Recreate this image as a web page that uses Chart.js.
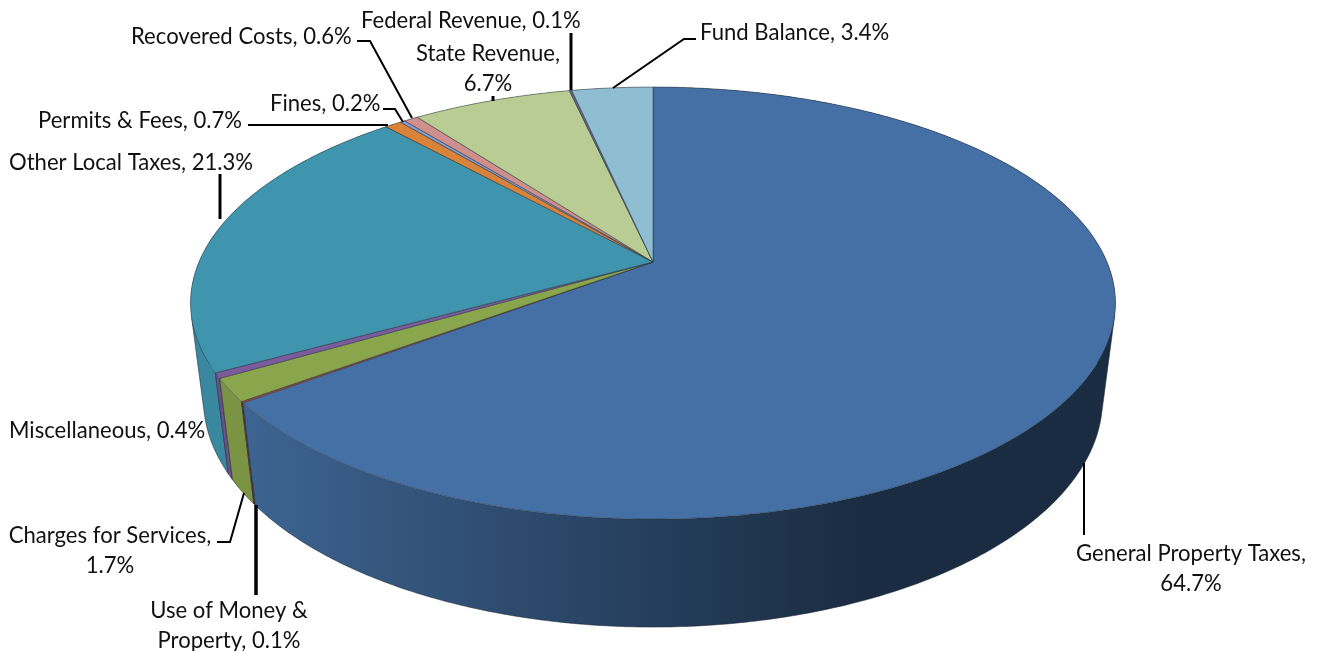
<!DOCTYPE html>
<html lang="en">
<head>
  <meta charset="UTF-8">
  <title>Revenue by Source</title>
  <script src="https://cdn.jsdelivr.net/npm/chart.js"></script>
  <style>
    body { margin: 0; background: #fff; }
    canvas { display: block; }
  </style>
</head>
<body>
  <canvas id="pieChart" width="1321" height="651"></canvas>

  <script>
    const categories = ['General Property Taxes', 'Use of Money & Property', 'Charges for Services', 'Miscellaneous',
      'Other Local Taxes', 'Permits & Fees', 'Fines', 'Recovered Costs', 'State Revenue', 'Federal Revenue', 'Fund Balance'];
    const shares = [64.7, 0.1, 1.7, 0.4, 21.3, 0.7, 0.2, 0.6, 6.7, 0.1, 3.4];
    const topColors = ['#4470a5', '#a5483f', '#8aa64d', '#7a5b9e', '#4095ae', '#d9823a', '#7f9fd0', '#cf8f8e', '#b8cc93', '#6e6488', '#8fbdd1'];
    const wallColors = ['#3d6491', '#7f2f2c', '#7a9444', '#6c4f8e', '#3a88a0', '#b86c2c', '#6f8cb8', '#b07a7a', '#9db27c', '#5b5272', '#7aa6b8'];

    // Excel style perspective: apex is not the ellipse centre, so arcs are projected by hand
    const view = { cx: 653, cy: 262, a: 454, b: 208.2, p: 0.19, lift: 0.0276, vanishY: 3797 };

    function project(angle, bottom) {
      const u = Math.cos(angle), v = Math.sin(angle);
      const w = 1 - view.p * v;
      const y = view.cy * w + view.b * v;
      const h = bottom ? view.lift : 0;
      return [view.cx + view.a * u / (w + h), (y + h * view.vanishY) / (w + h)];
    }

    function arcPoints(start, end, bottom) {
      const steps = Math.max(2, Math.ceil(Math.abs(end - start) / 0.01));
      const pts = [];
      for (let i = 0; i <= steps; i++) pts.push(project(start + (end - start) * i / steps, bottom));
      return pts;
    }

    function tracePath(ctx, pts) {
      pts.forEach((p, i) => i ? ctx.lineTo(p[0], p[1]) : ctx.moveTo(p[0], p[1]));
    }

    function strokeLine(ctx, pts) {
      ctx.beginPath();
      tracePath(ctx, pts);
      ctx.stroke();
    }

    // [left/center x, middle of first line y, align, wrap width]
    const labelSpots = [
      [1191, 553, 'center', 240], [229, 610, 'center', 160], [110, 535, 'center', 215], [9, 430, 'left', 300],
      [9, 162, 'left', 300], [38, 120, 'left', 300], [270, 103, 'left', 300], [131, 36, 'left', 300],
      [488, 53, 'center', 170], [361, 20, 'left', 300], [700, 32, 'left', 300]
    ];
    // [line width, points...]
    const leaders = [
      [2, [1084, 463], [1084, 535]],
      [3.5, [256, 505], [256, 595]],
      [2, [217, 542], [230, 542], [244, 493]],
      [2, [248, 125], [388, 125]],
      [2, [383, 109], [395, 109], [403, 122]],
      [2, [357, 41], [370, 41], [412, 118]],
      [3, [493, 96], [493, 101]],
      [3, [571, 33], [571, 90]],
      [3, [220, 174], [220, 219]],
      [2, [696, 39], [684, 39], [613, 88]]
    ];

    const pie3d = {
      id: 'pie3d',
      beforeDatasetDraw(chart) {
        const ctx = chart.ctx;
        const arcs = chart.getDatasetMeta(0).data;
        const edge = 'rgba(30,40,50,0.7)';

        // side wall strips, back slices first
        for (let i = arcs.length - 1; i >= 0; i--) {
          const arc = arcs[i];
          let fill = wallColors[i];
          if (i === 0) {
            fill = ctx.createLinearGradient(245, 0, 860, 0);
            fill.addColorStop(0, '#3d6491');
            fill.addColorStop(0.5, '#2b4769');
            fill.addColorStop(1, '#1a2c42');
          }
          const upper = arcPoints(arc.startAngle, arc.endAngle, false);
          const lower = arcPoints(arc.startAngle, arc.endAngle, true);
          const faces = [];

          // one path, all quads wound the same way, so no seams and no holes at the fold
          ctx.beginPath();
          for (let k = 0; k < upper.length - 1; k++) {
            const cross = (lower[k][0] - upper[k][0]) * (upper[k + 1][1] - upper[k][1]) -
              (lower[k][1] - upper[k][1]) * (upper[k + 1][0] - upper[k][0]);
            faces.push(cross > 0);
            const quad = [upper[k], upper[k + 1], lower[k + 1], lower[k]];
            tracePath(ctx, cross > 0 ? quad : quad.reverse());
            ctx.closePath();
          }
          ctx.fillStyle = fill;
          ctx.fill();

          ctx.strokeStyle = edge;
          ctx.lineWidth = 0.8;
          strokeLine(ctx, [upper[0], lower[0]]);
          strokeLine(ctx, [upper[upper.length - 1], lower[lower.length - 1]]);
          faces.forEach((front, k) => {
            if (front) strokeLine(ctx, [lower[k], lower[k + 1]]);
            if (k && front !== faces[k - 1]) strokeLine(ctx, [upper[k], lower[k]]);
          });
        }

        // top face
        arcs.forEach((arc, i) => {
          ctx.beginPath();
          tracePath(ctx, [[view.cx, view.cy]].concat(arcPoints(arc.startAngle, arc.endAngle, false)));
          ctx.closePath();
          ctx.fillStyle = topColors[i];
          ctx.fill();
          ctx.strokeStyle = 'rgba(40,50,60,0.65)';
          ctx.lineWidth = 0.8;
          ctx.stroke();
        });
        return false;
      },
      afterDraw(chart) {
        const ctx = chart.ctx;
        ctx.save();
        ctx.strokeStyle = '#000';
        leaders.forEach(([width, ...pts]) => {
          ctx.lineWidth = width;
          strokeLine(ctx, pts);
        });

        ctx.font = '22.1px Lato, "Open Sans", sans-serif';
        ctx.fillStyle = '#111';
        ctx.textBaseline = 'middle';
        categories.forEach((name, i) => {
          const [x, y, align, wrap] = labelSpots[i];
          ctx.textAlign = align;
          const words = (name + ', ' + shares[i].toFixed(1) + '%').split(' ');
          const lines = [];
          let line = '';
          words.forEach(word => {
            const next = line ? line + ' ' + word : word;
            if (ctx.measureText(next).width > wrap && line) {
              lines.push(line);
              line = word;
            } else {
              line = next;
            }
          });
          lines.push(line);
          lines.forEach((text, k) => ctx.fillText(text, x, y + 0.5 + k * 30));
        });
        ctx.restore();
      }
    };

    new Chart(document.getElementById('pieChart').getContext('2d'), {
      type: 'pie',
      data: {
        labels: categories,
        datasets: [{ data: shares, backgroundColor: topColors }]
      },
      options: {
        responsive: false,
        animation: false,
        plugins: { legend: { display: false }, tooltip: { enabled: false } }
      },
      plugins: [pie3d]
    });
  </script>
</body>
</html>
